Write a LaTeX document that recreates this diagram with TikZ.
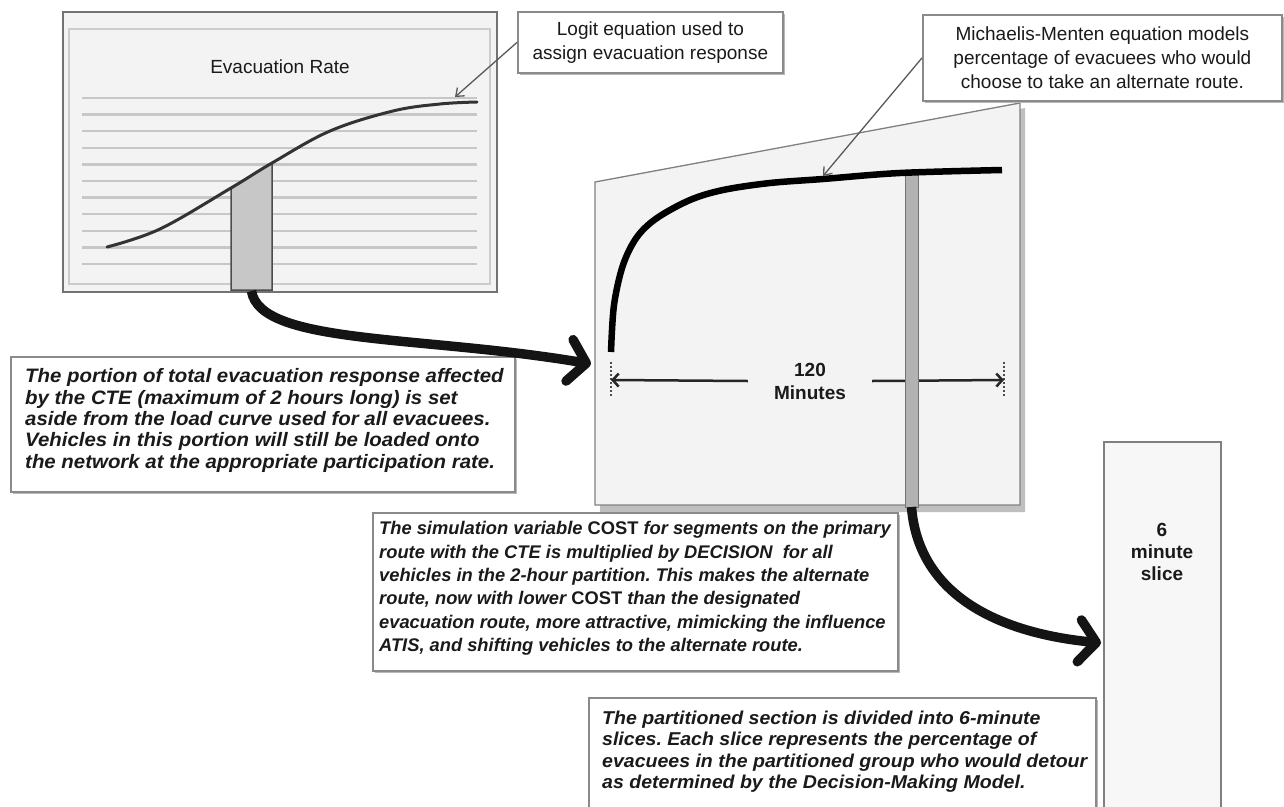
\documentclass[tikz,border=0pt]{standalone}
\usepackage{fontspec}
\setmainfont{Liberation Sans}
\newfontfamily\bodyfont[FakeStretch=1.05]{Liberation Sans}
\newfontfamily\narrowfont[FakeStretch=1.0]{Liberation Sans}
\usetikzlibrary{arrows.meta,shadows}
\definecolor{ink}{HTML}{1A1A1A}
\definecolor{frame}{HTML}{8A8A8A}
\definecolor{panelfill}{HTML}{F3F3F3}
\frenchspacing
\begin{document}
\begin{tikzpicture}[x=1pt,y=-1pt,
  shadowed/.style={drop shadow={shadow xshift=2pt,shadow yshift=-2pt,fill=black!28,opacity=1}},
  callout/.style={draw=frame,line width=1.8pt,fill=white,align=center,inner sep=0pt,text=ink,
    font=\fontsize{19}{24}\selectfont,shadowed},
  notebox/.style={draw=frame,line width=1.8pt,fill=white,inner sep=0pt,shadowed},
  notetext/.style={align=left,inner sep=0pt,text=ink},
  boldlabel/.style={align=center,inner sep=0pt,text=ink,font=\bfseries\fontsize{19}{23}\selectfont},
  pointer/.style={draw=black!65,line width=1.3pt,-{Straight Barb[length=7pt,width=11pt]}},
  bigarrow/.style={draw=black!92,line width=9.5pt,-{Straight Barb[length=17pt,width=42pt,round]}},
  dimarrow/.style={draw=black!85,line width=2.5pt,-{Straight Barb[length=6pt,width=13pt]}},
  tick/.style={draw=black!70,line width=2pt,dotted},
  gridline/.style={draw=black!22,line width=2.4pt}]
\useasboundingbox (0,0) rectangle (1284,806);

% ---------- Evacuation rate panel ----------
\draw[draw=black!55,fill=panelfill,line width=2.2pt] (63,12) rectangle (497,292);
\draw[draw=black!20,line width=1.4pt] (69,29) rectangle (490,284);
\foreach \i in {0,...,10} \draw[gridline] (82,{98+\i*16.6}) -- (477,{98+\i*16.6});
\node[font=\fontsize{19}{22}\selectfont,text=ink] (evtitle) at (280,67) {Evacuation Rate};
\coordinate (sa) at (231,188);
\coordinate (sb) at (272,163);
\coordinate (sliceBottom) at (251.5,291);
\filldraw[fill=black!22,draw=black!70,line width=1.5pt] (231,290) -- (sa) -- (sb) -- (272,290) -- cycle;
\draw[black!80,line width=3pt,line cap=round] plot[smooth,tension=0.6] coordinates
  {(107,247) (160,229) (sa) (sb) (330,131) (393,111) (440,104) (477,102)};
\coordinate (logitTip) at (455,97);

% ---------- Michaelis-Menten panel ----------
\fill[black!25] (600,187) -- (1025,108) -- (1025,512) -- (600,512) -- cycle;
\filldraw[fill=panelfill,draw=black!50,line width=1.3pt] (595,182) -- (1020,103) -- (1020,505) -- (595,505) -- cycle;
\coordinate (dL) at (611,380);
\coordinate (dR) at (1004,380);
\draw[tick] (611,362) -- (611,396);
\draw[tick] (1004,362) -- (1004,396);
\node[boldlabel,inner xsep=26pt] (dimlabel) at (810,381) {120\\Minutes};
\draw[dimarrow] (dimlabel.west) -- (dL);
\draw[dimarrow] (dimlabel.east) -- (dR);
\filldraw[fill=black!30,draw=black!55,line width=1pt] (905,172) rectangle (918,507);
\coordinate (barBottom) at (911.5,507);
\draw[black,line width=6.5pt] plot[smooth,tension=0.55] coordinates
  {(611,352) (614,305) (623,265) (637,237) (657,218) (690,200) (723,190) (770,183) (823,179) (900,173) (1002,170)};
\coordinate (mmTip) at (823,176);
\coordinate (panelIn) at (591,364);

% ---------- callouts ----------
\node[callout,anchor=north west,minimum width=265pt,minimum height=61pt] (logit) at (517,11)
  {Logit equation used to\\assign evacuation response};
\node[callout,anchor=north west,minimum width=359pt,minimum height=86pt] (mm) at (922,14)
  {Michaelis-Menten equation models\\percentage of evacuees who would\\choose to take an alternate route.};
\draw[pointer] (logit.west) -- (logitTip);
\draw[pointer] (mm.west) -- (mmTip);

% ---------- note boxes ----------
\node[notebox,anchor=north west,minimum width=504pt,minimum height=135pt] (portion) at (10,356) {};
\node[notetext,anchor=west,font=\bodyfont\bfseries\itshape\fontsize{19.45}{21.3}\selectfont] (portiontext) at ([xshift=15pt,yshift=4pt]portion.west)
  {The portion of total evacuation response affected\\
   by the CTE (maximum of 2 hours long) is set\\
   aside from the load curve used for all evacuees.\\
   Vehicles in this portion will still be loaded onto\\
   the network at the appropriate participation rate.};

\node[notebox,anchor=north west,minimum width=525pt,minimum height=158pt] (cost) at (372,512) {};
\node[notetext,anchor=west,font=\narrowfont\bfseries\itshape\fontsize{18.3}{23.4}\selectfont] (costtext) at ([xshift=7pt,yshift=3.5pt]cost.west)
  {The simulation variable {\upshape COST} for segments on the primary\\
   route with the CTE is multiplied by DECISION\ \ for all\\
   vehicles in the 2-hour partition. This makes the alternate\\
   route, now with lower {\upshape COST} than the designated\\
   evacuation route, more attractive, mimicking the influence\\
   ATIS, and shifting vehicles to the alternate route.};

\node[notebox,anchor=north west,minimum width=507pt,minimum height=120pt] (partition) at (588,697) {};
\node[notetext,anchor=north west,font=\bodyfont\bfseries\itshape\fontsize{18.6}{21.3}\selectfont] (partitiontext) at (602,711)
  {The partitioned section is divided into 6-minute\\
   slices. Each slice represents the percentage of\\
   evacuees in the partitioned group who would detour\\
   as determined by the Decision-Making Model.};

% ---------- slice ----------
\node[draw=black!50,fill=black!3,line width=2pt,anchor=north west,minimum width=117pt,minimum height=380pt,inner sep=0pt] (slice) at (1103,441) {};
\node[boldlabel,font=\bfseries\fontsize{19}{22}\selectfont] (slicetext) at (1162,552) {6\\minute\\slice};
\coordinate (sliceIn) at (1101,643);

% ---------- big arrows ----------
\draw[bigarrow] (sliceBottom) .. controls (260,345) and (420,335) .. (panelIn);
\draw[bigarrow] (barBottom) .. controls (918,590) and (990,632) .. (sliceIn);
\end{tikzpicture}
\end{document}
